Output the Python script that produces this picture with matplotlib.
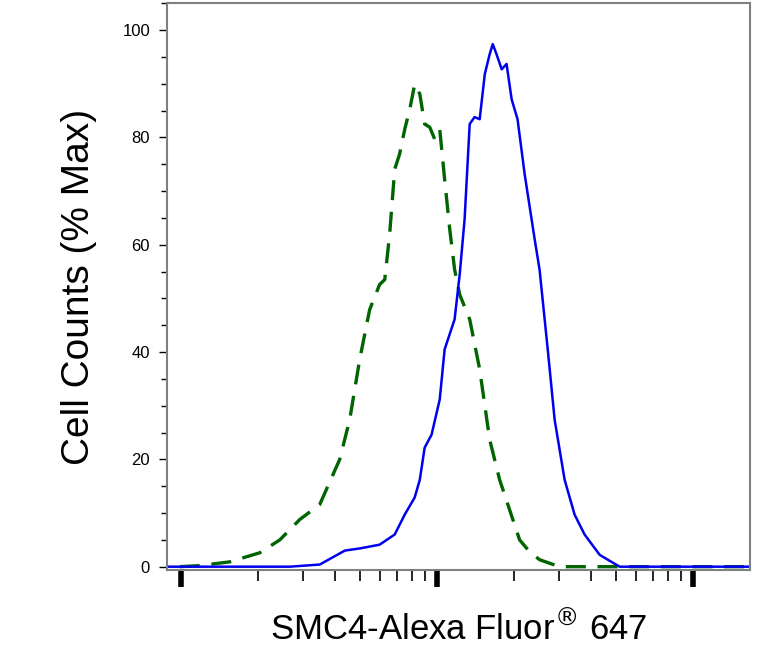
import matplotlib
matplotlib.use("Agg")
import matplotlib.pyplot as plt
from matplotlib.ticker import MultipleLocator, FixedLocator
import numpy as np

plt.rcParams['font.family'] = ['Liberation Sans', 'DejaVu Sans']

# log10 fluorescence, % max
blue_x = [0.945,1.426,1.543,1.641,1.699,1.777,1.836,1.875,1.914,1.934,1.953,1.980,2.012,2.031,2.070,2.090,2.109,2.129,2.148,2.168,2.188,2.207,2.219,2.234,2.254,2.273,2.293,2.316,2.344,2.383,2.402,2.434,2.461,2.500,2.539,2.578,2.637,2.715,3.223]
blue_y = [0,0,0.4,3.0,3.4,4.1,6.0,9.7,12.9,16.2,22.2,24.6,31.2,40.5,46.1,54.5,64.7,82.5,83.8,83.4,91.8,95.5,97.4,95.5,92.7,93.7,87.1,83.4,73.1,61.0,55.4,40.5,27.4,16.2,9.7,6.0,2.2,0,0]
green_x = [0.996,1.074,1.191,1.309,1.387,1.465,1.543,1.621,1.660,1.699,1.738,1.777,1.797,1.816,1.836,1.855,1.875,1.895,1.914,1.934,1.953,1.973,1.992,2.012,2.031,2.051,2.070,2.090,2.129,2.168,2.207,2.246,2.285,2.324,2.363,2.402,2.480,3.223]
green_y = [0,0.2,0.9,2.6,5.0,8.8,11.6,20.0,27.4,38.6,47.9,52.6,53.5,61.9,74.1,76.9,81.5,85.3,89.9,88.1,82.5,81.9,79.7,81.5,72.2,62.9,55.4,50.7,46.1,36.8,23.7,16.2,10.6,5.0,2.8,1.3,0,0]
y_ticks = [0,20,40,60,80,100]

fig = plt.figure(figsize=(7.72,6.65), dpi=100)
ax = fig.add_axes([0.216,0.143,0.755,0.852])
ax.plot(green_x, green_y, color='#006400', lw=2.4, ls=(0,(6,3.5)))
ax.plot(blue_x, blue_y, color='#0000ee', lw=1.8)
ax.set_xlim(0.945, 3.223)
ax.set_ylim(-0.6, 105)
for s in ax.spines.values():
    s.set_color('#808080'); s.set_linewidth(1.5)
ax.set_yticks(y_ticks)
ax.set_yticklabels([str(t) for t in y_ticks], fontsize=12)
ax.yaxis.set_minor_locator(MultipleLocator(5))
ax.tick_params(axis='y', which='major', length=6, width=1, color='black', pad=6)
ax.tick_params(axis='y', which='minor', length=4, width=1, color='black')
ax.set_xticks([1,2,3])
ax.set_xticklabels([])
minors = [d+np.log10(k) for d in (1,2) for k in range(2,10)] + [3+np.log10(2)]
ax.xaxis.set_minor_locator(FixedLocator(minors))
ax.tick_params(axis='x', which='major', length=12, width=4, color='black')
ax.tick_params(axis='x', which='minor', length=8, width=1.2, color='black')
ax.set_ylabel('Cell Counts (% Max)', fontsize=28, labelpad=18)
ax.set_xlabel('SMC4-Alexa Fluor$^{®}$ 647', fontsize=25, labelpad=14)
fig.savefig('out.png', dpi=100)
